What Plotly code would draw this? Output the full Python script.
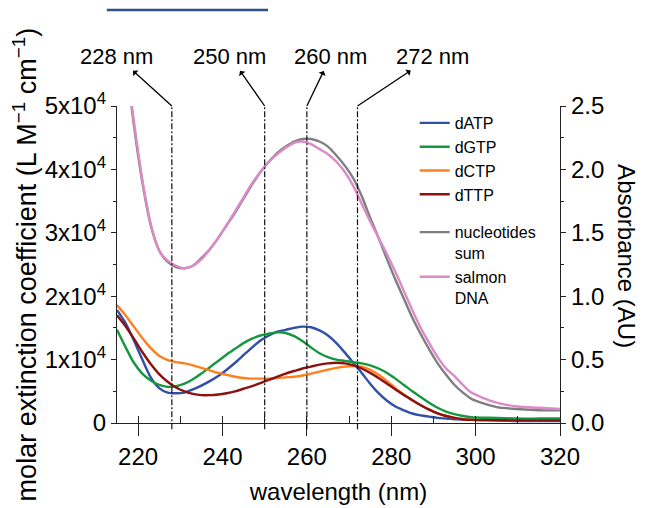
import plotly.graph_objects as go

# ---------------- data ----------------
wavelength = [215, 217, 219, 221, 223, 225, 227, 229, 231, 233, 235, 237, 239, 241, 243, 245,
              247, 249, 251, 253, 255, 257, 259, 261, 263, 265, 267, 269, 271, 273, 275, 277,
              279, 281, 283, 285, 287, 289, 291, 293, 295, 297, 299, 305, 310, 315, 320]

# molar extinction coefficients, in units of 1e4 L M^-1 cm^-1
dATP = [1.78, 1.58, 1.30, 1.00, 0.72, 0.55, 0.48, 0.47, 0.48, 0.53, 0.59, 0.66, 0.74, 0.84, 0.95, 1.07,
        1.19, 1.30, 1.38, 1.44, 1.47, 1.50, 1.52, 1.51, 1.46, 1.38, 1.26, 1.11, 0.95, 0.79, 0.62, 0.47,
        0.35, 0.26, 0.20, 0.15, 0.12, 0.10, 0.08, 0.07, 0.06, 0.05, 0.05, 0.04, 0.03, 0.03, 0.03]
dGTP = [1.47, 1.20, 0.95, 0.78, 0.67, 0.60, 0.57, 0.58, 0.62, 0.69, 0.78, 0.88, 0.98, 1.08, 1.17, 1.26,
        1.33, 1.38, 1.41, 1.43, 1.42, 1.37, 1.29, 1.19, 1.10, 1.04, 1.00, 0.98, 0.96, 0.94, 0.91, 0.86,
        0.79, 0.70, 0.60, 0.50, 0.41, 0.32, 0.24, 0.18, 0.14, 0.11, 0.09, 0.08, 0.07, 0.07, 0.07]
dCTP = [1.86, 1.70, 1.52, 1.34, 1.18, 1.06, 0.99, 0.96, 0.94, 0.91, 0.87, 0.83, 0.79, 0.76, 0.73, 0.71,
        0.70, 0.70, 0.70, 0.71, 0.72, 0.73, 0.75, 0.78, 0.81, 0.84, 0.87, 0.89, 0.90, 0.89, 0.84, 0.76,
        0.66, 0.55, 0.45, 0.36, 0.28, 0.21, 0.15, 0.11, 0.08, 0.06, 0.05, 0.045, 0.04, 0.04, 0.04]
dTTP = [1.70, 1.53, 1.33, 1.12, 0.93, 0.77, 0.65, 0.56, 0.50, 0.46, 0.44, 0.44, 0.45, 0.47, 0.50, 0.54,
        0.58, 0.63, 0.68, 0.73, 0.78, 0.82, 0.86, 0.89, 0.92, 0.94, 0.95, 0.94, 0.91, 0.86, 0.79, 0.71,
        0.62, 0.53, 0.44, 0.36, 0.28, 0.21, 0.15, 0.11, 0.08, 0.06, 0.05, 0.045, 0.04, 0.04, 0.04]

# absorbance (AU)
nucleotides_sum = [3.40, 2.90, 2.35, 1.90, 1.56, 1.36, 1.27, 1.23, 1.22, 1.24, 1.30, 1.37, 1.46, 1.56, 1.66, 1.77,
                   1.88, 1.98, 2.06, 2.13, 2.18, 2.22, 2.24, 2.24, 2.22, 2.18, 2.11, 2.03, 1.93, 1.79, 1.62, 1.46,
                   1.29, 1.13, 0.98, 0.83, 0.70, 0.58, 0.47, 0.38, 0.30, 0.24, 0.19, 0.125, 0.11, 0.10, 0.10]
salmon_DNA = [3.40, 2.90, 2.38, 1.92, 1.57, 1.36, 1.28, 1.24, 1.22, 1.24, 1.29, 1.37, 1.46, 1.56, 1.67, 1.78,
              1.89, 1.98, 2.06, 2.12, 2.17, 2.21, 2.22, 2.20, 2.16, 2.12, 2.06, 1.98, 1.87, 1.73, 1.59, 1.46,
              1.33, 1.19, 1.04, 0.89, 0.75, 0.63, 0.52, 0.43, 0.37, 0.30, 0.24, 0.16, 0.13, 0.12, 0.11]

marked_wavelengths = [228, 250, 260, 272]
marked_labels = ["228 nm", "250 nm", "260 nm", "272 nm"]
label_offsets_px = [-55, -35, 24, 75]

left_tickvals = [0, 1e4, 2e4, 3e4, 4e4, 5e4]
left_ticktext = ["0", "1x10<sup>4</sup>", "2x10<sup>4</sup>", "3x10<sup>4</sup>",
                 "4x10<sup>4</sup>", "5x10<sup>4</sup>"]

FONT = "Liberation Sans, Arial, Helvetica, sans-serif"

fig = go.Figure()

nuc_series = [("dATP", dATP, "#3050a6"), ("dGTP", dGTP, "#16963f"),
              ("dCTP", dCTP, "#ff7f1f"), ("dTTP", dTTP, "#8a1212")]
for name, vals, col in nuc_series:
    fig.add_trace(go.Scatter(x=wavelength, y=[v * 1e4 for v in vals], name=name, mode="lines",
                             line=dict(color=col, width=2.4, shape="spline", smoothing=0.8),
                             legendgroup="nuc", xaxis="x", yaxis="y"))

fig.add_trace(go.Scatter(x=wavelength, y=nucleotides_sum, name="nucleotides<br>sum", mode="lines",
                         line=dict(color="#7f7f7f", width=2.4, shape="spline", smoothing=0.8),
                         legendgroup="dna", yaxis="y2"))
fig.add_trace(go.Scatter(x=wavelength, y=salmon_DNA, name="salmon<br>DNA", mode="lines",
                         line=dict(color="#dc8ac8", width=2.4, shape="spline", smoothing=0.8),
                         legendgroup="dna", yaxis="y2"))

shapes = []
for wl in marked_wavelengths:
    shapes.append(dict(type="line", xref="x", yref="paper", x0=wl, x1=wl, y0=-0.02, y1=1,
                       line=dict(color="#111", width=1.2, dash="6px,2px,2px,2px"), layer="above"))
# stray rule at top of the figure
shapes.append(dict(type="line", xref="paper", yref="paper", x0=-0.023, x1=0.341, y0=1.303, y1=1.303,
                   line=dict(color="#2c4f8e", width=2.5)))

annotations = []
for wl, lab, off in zip(marked_wavelengths, marked_labels, label_offsets_px):
    annotations.append(dict(x=wl, y=1, xref="x", yref="paper", text=lab, showarrow=True,
                            ax=off, ay=-50, axref="pixel", ayref="pixel", arrowside="start",
                            arrowhead=2, arrowsize=1.3, arrowwidth=1.3, arrowcolor="#000",
                            startstandoff=1, font=dict(size=22, color="#000", family=FONT)))
annotations.append(dict(x=1.185, y=0.525, xref="paper", yref="paper", text="Absorbance (AU)",
                        textangle=90, showarrow=False, font=dict(size=24, color="#000", family=FONT)))

# the page body has an 8px default margin, so the figure is offset by (8, 8)
fig.update_layout(
    width=649, height=508,
    margin=dict(l=109, r=97, t=98, b=93),
    paper_bgcolor="white", plot_bgcolor="white",
    font=dict(family=FONT, color="#000", size=24),
    shapes=shapes, annotations=annotations,
    showlegend=True,
    legend=dict(x=0.672, y=1.0, xanchor="left", yanchor="top", bgcolor="rgba(0,0,0,0)",
                font=dict(size=16, family=FONT), traceorder="grouped", tracegroupgap=14,
                valign="top", itemwidth=30),
    xaxis=dict(range=[215, 320], dtick=20, tick0=220, ticks="outside", ticklen=12, tickwidth=1.2,
               tickcolor="#222", showline=True, linecolor="#222", linewidth=1.3, showgrid=False,
               zeroline=False, tickfont=dict(size=24),
               minor=dict(dtick=10, tick0=220, ticks="inside", ticklen=7, tickcolor="#222", tickwidth=1.2),
               title=dict(text="wavelength (nm)", font=dict(size=24), standoff=14)),
    xaxis2=dict(range=[215, 320], overlaying="x", side="top", anchor="y", dtick=10, tick0=220,
                ticks="inside", ticklen=5, tickcolor="#555", showticklabels=False, showline=True,
                linecolor="#888", linewidth=1.5, showgrid=False, zeroline=False),
    yaxis=dict(range=[0, 5e4], tickmode="array", tickvals=left_tickvals, ticktext=left_ticktext,
               ticks="outside", ticklen=5, tickcolor="#222", showline=True, linecolor="#222",
               linewidth=1.3, showgrid=False, zeroline=False, tickfont=dict(size=24),
               minor=dict(tickmode="array", tickvals=[5e3, 1.5e4, 2.5e4, 3.5e4, 4.5e4],
                          ticks="outside", ticklen=3, tickcolor="#222"),
               title=dict(text="molar extinction coefficient (L M<sup>\u22121</sup> cm<sup>\u22121</sup>)",
                          font=dict(size=27), standoff=6)),
    yaxis2=dict(range=[0, 2.5], overlaying="y", side="right", anchor="x", dtick=0.5,
                tickformat=".1f", ticks="outside", ticklen=5, tickcolor="#222", showline=True,
                linecolor="#222", linewidth=1.3, showgrid=False, zeroline=False,
                tickfont=dict(size=24),
                minor=dict(dtick=0.25, ticks="outside", ticklen=3, tickcolor="#222")),
)

fig.write_html("out.html")
